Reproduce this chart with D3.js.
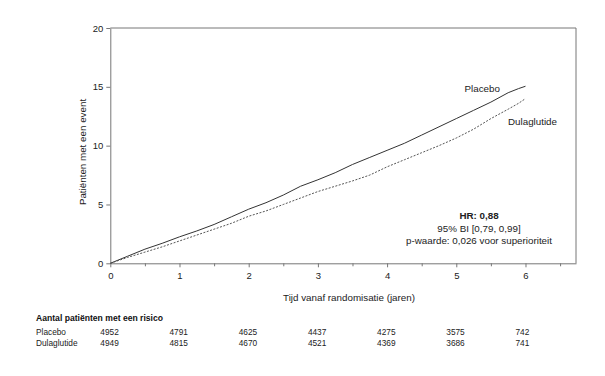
<!DOCTYPE html>
<html><head><meta charset="utf-8">
<script src="https://cdn.jsdelivr.net/npm/d3@7"></script>
<style>body{margin:0;background:#fff;}svg{display:block;font-family:"Liberation Sans",Arial,sans-serif;}</style>
</head><body><svg id="c" width="605" height="376"></svg>
<script>
const times = [0,0.25,0.5,0.75,1,1.25,1.5,1.75,2,2.25,2.5,2.75,3,3.25,3.5,3.75,4,4.25,4.5,4.75,5,5.25,5.5,5.75,5.9,6];
const placebo = [0,0.6,1.2,1.7,2.25,2.75,3.3,3.95,4.6,5.15,5.8,6.55,7.1,7.7,8.4,9.0,9.6,10.2,10.9,11.6,12.3,13.0,13.7,14.5,14.85,15.05];
const dulaglutide = [0,0.5,0.95,1.4,1.9,2.4,2.9,3.4,4.0,4.45,5.0,5.55,6.1,6.55,7.0,7.5,8.2,8.8,9.4,10.0,10.65,11.4,12.3,13.1,13.6,14.0];
const xTicks = [0,1,2,3,4,5,6];
const yTicks = [0,5,10,15,20];
const riskTimes = [0,1,2,3,4,5,6];
const riskPlacebo = [4952,4791,4625,4437,4275,3575,742];
const riskDula = [4949,4815,4670,4521,4369,3686,741];
const annot = ["HR: 0,88","95% BI [0,79, 0,99]","p-waarde: 0,026 voor superioriteit"];

const svg = d3.select("#c");
const L=110.3, R=576, T=28, B=263.3;
const x = d3.scaleLinear().domain([0,6.73]).range([L,R]);
const y = d3.scaleLinear().domain([0,20]).range([B,T]);
const axCol = "#777";

svg.append("line").attr("x1",L).attr("x2",R).attr("y1",T).attr("y2",T).attr("stroke",axCol);
svg.append("line").attr("x1",R).attr("x2",R).attr("y1",T).attr("y2",B).attr("stroke",axCol);

svg.append("g").attr("transform",`translate(0,${B})`)
  .call(d3.axisBottom(x).tickValues(xTicks).tickFormat(d3.format("d")).tickSize(4).tickSizeOuter(0).tickPadding(5));
svg.append("g").attr("transform",`translate(0,${B})`)
  .call(d3.axisBottom(x).tickValues([0.5,1.5,2.5,3.5,4.5,5.5,6.5]).tickSize(3).tickFormat(""))
  .call(g=>g.select(".domain").remove());
svg.append("g").attr("transform",`translate(${L},0)`)
  .call(d3.axisLeft(y).tickValues(yTicks).tickFormat(d3.format("d")).tickSize(4).tickSizeOuter(0).tickPadding(3));
svg.selectAll(".domain").attr("stroke",axCol);
svg.selectAll(".tick line").attr("stroke",axCol);
svg.selectAll(".tick text").attr("font-family","Liberation Sans, Arial, sans-serif").attr("font-size",9.5).attr("fill","#222");

const line = d3.line().x((d,i)=>x(times[i])).y(d=>y(d));
svg.append("path").datum(placebo).attr("d",line).attr("fill","none").attr("stroke","#333").attr("stroke-width",1);
svg.append("path").datum(dulaglutide).attr("d",line).attr("fill","none").attr("stroke","#555").attr("stroke-width",1).attr("stroke-dasharray","2,1.5");

svg.append("text").attr("x",464.5).attr("y",92).attr("font-size",9.8).attr("fill","#222").text("Placebo");
svg.append("text").attr("x",508).attr("y",125).attr("font-size",9.8).attr("fill","#222").text("Dulaglutide");

annot.forEach((s,i)=>{
  svg.append("text").attr("x",479).attr("y",[219,232,244][i]).attr("text-anchor","middle")
    .attr("font-size",9.8).attr("font-weight",i===0?"bold":"normal").attr("fill","#222").text(s);
});

svg.append("text").attr("x",349).attr("y",301).attr("text-anchor","middle").attr("font-size",9.8).attr("fill","#222")
  .text("Tijd vanaf randomisatie (jaren)");
svg.append("text").attr("transform","translate(86,152) rotate(-90)").attr("text-anchor","middle").attr("font-size",9.8).attr("fill","#222")
  .text("Patiënten met een event");

svg.append("text").attr("x",36).attr("y",321).attr("font-size",8.6).attr("font-weight","bold").attr("fill","#111").text("Aantal patiënten met een risico");
svg.append("text").attr("x",36).attr("y",335).attr("font-size",8.3).attr("fill","#222").text("Placebo");
svg.append("text").attr("x",36).attr("y",346).attr("font-size",8.3).attr("fill","#222").text("Dulaglutide");
riskTimes.forEach((t,i)=>{
  svg.append("text").attr("x",x(t)-10).attr("y",335).attr("font-size",8.3).attr("fill","#222").text(riskPlacebo[i]);
  svg.append("text").attr("x",x(t)-10).attr("y",346).attr("font-size",8.3).attr("fill","#222").text(riskDula[i]);
});
</script></body></html>
